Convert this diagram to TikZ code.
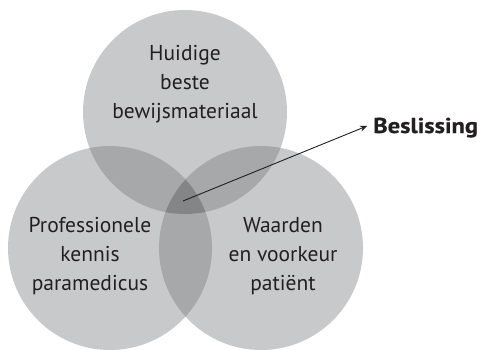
\documentclass[tikz,border=0pt]{standalone}
\usepackage{fontspec}
\setmainfont{PT Sans}
\newfontfamily\boldwide[FakeStretch=1.14,FakeBold=0.6]{PT Sans Bold}
\usetikzlibrary{arrows.meta}
\definecolor{cone}{HTML}{C8C9CB}
\definecolor{ctwo}{HTML}{A7A8AA}
\definecolor{cthree}{HTML}{848587}
\definecolor{ink}{HTML}{231F20}
\tikzset{
  lbl/.style={align=center, text=ink, font=\fontsize{21.5}{28.7}\selectfont, inner sep=0pt},
  conn/.style={draw=ink, line width=0.9pt, -{Stealth[length=7pt,width=6pt]}}
}
\begin{document}
\begin{tikzpicture}[x=1pt,y=-1pt]
\useasboundingbox (0,0) rectangle (481,350);
\def\R{102}
\coordinate (ct) at (185,112);
\coordinate (cl) at (110,248);
\coordinate (cr) at (261,248);
\fill[cone] (ct) circle[radius=\R];
\fill[cone] (cl) circle[radius=\R];
\fill[cone] (cr) circle[radius=\R];
\begin{scope}
  \clip (ct) circle[radius=\R];
  \fill[ctwo] (cl) circle[radius=\R];
  \fill[ctwo] (cr) circle[radius=\R];
\end{scope}
\begin{scope}
  \clip (cl) circle[radius=\R];
  \fill[ctwo] (cr) circle[radius=\R];
\end{scope}
\begin{scope}
  \clip (ct) circle[radius=\R];
  \clip (cl) circle[radius=\R];
  \fill[cthree] (cr) circle[radius=\R];
\end{scope}
\node[lbl] (top) at (185,84) {Huidige\\beste\\bewijsmateriaal};
\node[lbl] (left) at (90,256) {Professionele\\kennis\\paramedicus};
\node[lbl] (right) at (283,256) {Waarden\\en voorkeur\\patiënt};
\coordinate (src) at (183,201);
\node[text=ink, font=\fontsize{21.5}{24}\boldwide, anchor=base west, inner sep=0pt] (dec) at (373,133) {Beslissing};
\coordinate (tip) at ([xshift=-6pt,yshift=7pt]dec.base west);
\draw[conn] (src) -- (tip);
\end{tikzpicture}
\end{document}
